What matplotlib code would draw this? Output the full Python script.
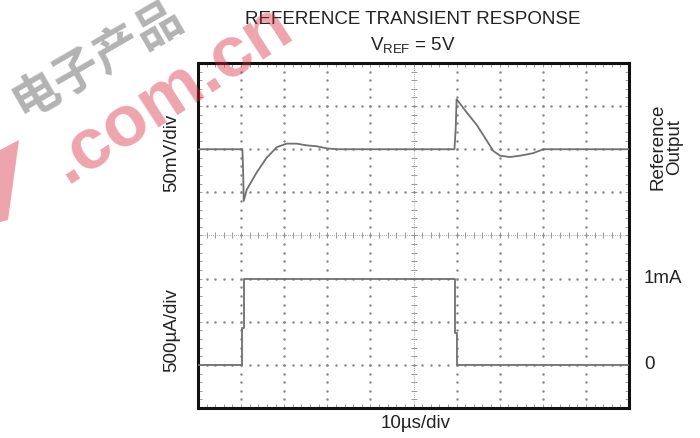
import numpy as np
import matplotlib
matplotlib.use('Agg')
import matplotlib.pyplot as plt
import matplotlib.patches as mpatches

plt.rcParams['font.family'] = ['Liberation Sans', 'DejaVu Sans']

# Reference output (top trace): time in us, deviation from baseline in mV
t_ref = [0, 10.3, 10.5, 10.6, 11.3, 13.6, 15.9, 18.3, 20.6, 22.9, 25.2, 27.5, 29.9, 32.2,
         59.5, 59.8, 60.0, 62.3, 64.7, 67.0, 68.5, 70.1, 72.4, 74.7, 77.8, 80.1, 100]
v_ref = [0, 0, -30, -60, -47, -27, -10, 2.5, 6.5, 6.5, 4.5, 3.5, 1, 0,
         0, 25, 58, 43, 28, 10, -2, -7.5, -9, -7.5, -4.5, 0, 0]

# Load current (bottom trace): time in us, current in uA
t_load = [0, 10.3, 10.3, 10.7, 10.7, 59.6, 59.6, 60.0, 60.0, 100]
i_load = [0, 0, 430, 430, 1000, 1000, 365, 365, 0, 0]

mv_per_div = 50
ua_per_div = 500
us_per_div = 10
ref_base = 6   # divisions from bottom
load_base = 1

fig = plt.figure(figsize=(7, 4.38), dpi=100)
ax = fig.add_axes([198 / 700, 30 / 438, 431 / 700, 345 / 438])
ax.set_xlim(0, 10)
ax.set_ylim(0, 8)

# scope graticule
dot_c = '#8a8a8a'
for k in range(1, 10):
    if k == 5:
        continue
    ax.plot(np.full(41, k), np.linspace(0, 8, 41), ls='none', marker='o', ms=0.8, color=dot_c)
for k in range(1, 8):
    if k == 4:
        continue
    ax.plot(np.linspace(0, 10, 51), np.full(51, k), ls='none', marker='o', ms=0.8, color=dot_c)
ax.axvline(5, color=dot_c, lw=0.6, ls=(0, (1, 1.5)))
ax.axhline(4, color=dot_c, lw=0.6, ls=(0, (1, 1.5)))
ax.plot(np.full(41, 5), np.linspace(0, 8, 41), ls='none', marker='_', ms=4, mew=0.6, color=dot_c)
ax.plot(np.linspace(0, 10, 51), np.full(51, 4), ls='none', marker='|', ms=4, mew=0.6, color=dot_c)

ax.set_xticks(np.arange(0, 11))
ax.set_yticks(np.arange(0, 9))
ax.set_xticks(np.arange(0, 10.01, 0.2), minor=True)
ax.set_yticks(np.arange(0, 8.01, 0.2), minor=True)
ax.tick_params(which='both', direction='in', length=3, width=0.6, color=dot_c,
               top=True, right=True, labelbottom=False, labelleft=False)
for s in ax.spines.values():
    s.set_linewidth(2.2)
    s.set_color('#111111')

# traces
x_ref = np.array(t_ref) / us_per_div
y_ref = ref_base + np.array(v_ref) / mv_per_div
x_load = np.array(t_load) / us_per_div
y_load = load_base + np.array(i_load) / ua_per_div
ax.plot(x_ref, y_ref, color='#707070', lw=1.3, zorder=5)
ax.plot(x_load, y_load, color='#707070', lw=1.3, zorder=5)

# text
tc = '#222222'
fs = 13.5
fig.text(413 / 700, 1 - 20 / 438, 'REFERENCE TRANSIENT RESPONSE', ha='center', va='center', fontsize=fs, color=tc)
fig.text(413 / 700, 1 - 46 / 438, r'V$_{\mathregular{REF}}$ = 5V', ha='center', va='center', fontsize=fs, color=tc)
fig.text(416 / 700, 1 - 424 / 438, '10µs/div', ha='center', va='center', fontsize=fs, color=tc)
ax.text(-0.62, ref_base - 0.08, '50mV/div', rotation=90, ha='center', va='center', fontsize=fs, color=tc)
ax.text(-0.62, load_base + 0.8, '500µA/div', rotation=90, ha='center', va='center', fontsize=fs, color=tc)
ax.text(10.87, ref_base + 0.05, 'Reference\nOutput', rotation=90, ha='center', va='center',
        fontsize=fs, color=tc, linespacing=1.0)
ax.text(10.35, load_base + 2, '1mA', ha='left', va='center', fontsize=fs, color=tc)
ax.text(10.35, load_base, '0', ha='left', va='center', fontsize=fs, color=tc)

# watermark
fig.text(171 / 700, 1 - 94 / 438, '.com.cn', rotation=33, ha='center', va='center',
         fontsize=52, fontweight='bold', color='#d8273a', alpha=0.42, zorder=20)
fig.text(15 / 700, 1 - 106 / 438, '电子产品', rotation=30, ha='left', va='center',
         rotation_mode='anchor', fontsize=34, fontweight='bold', color='#000000', alpha=0.3, zorder=20,
         family=['Noto Sans CJK SC', 'DejaVu Sans'])
bar = mpatches.Polygon([(0, 1 - 150 / 438), (19 / 700, 1 - 140 / 438), (8 / 700, 1 - 220 / 438), (0, 1 - 222 / 438)],
                       closed=True, transform=fig.transFigure, color='#d8273a', alpha=0.42, lw=0, zorder=20)
fig.patches.append(bar)

fig.savefig('out.png', dpi=100)
